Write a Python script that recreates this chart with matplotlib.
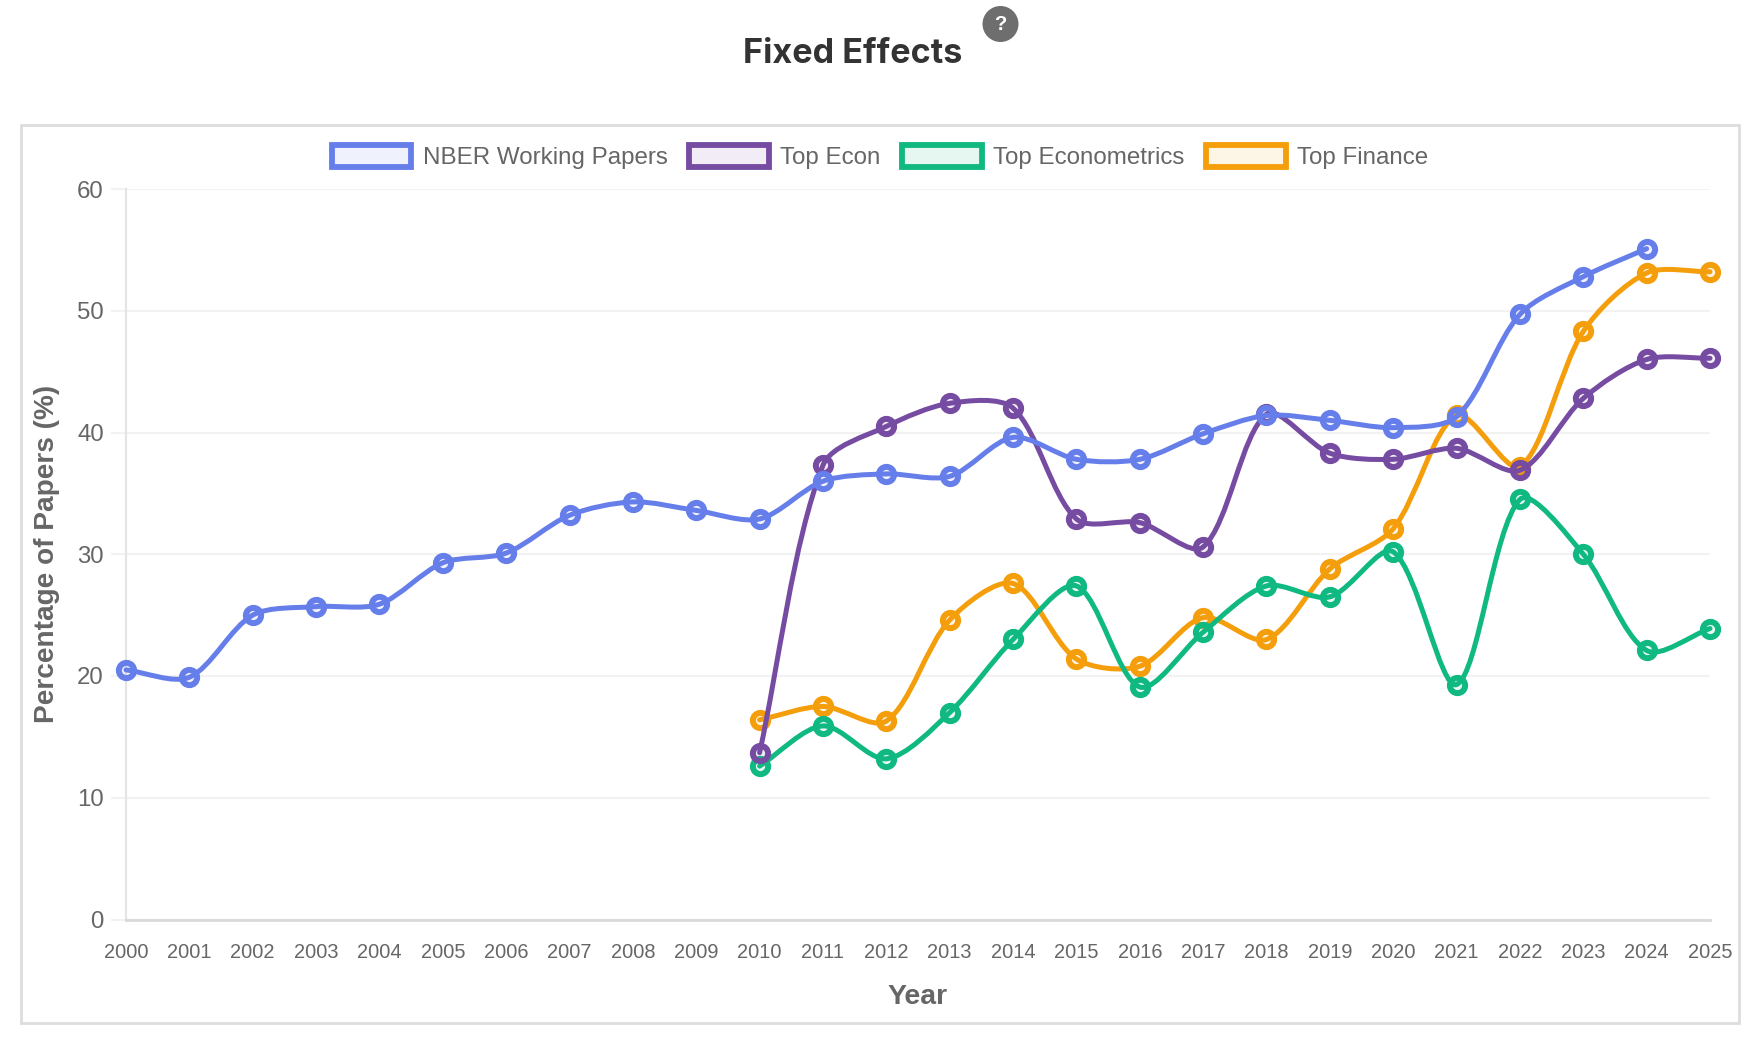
import numpy as np
from matplotlib import pyplot as plt
from matplotlib.lines import Line2D
from matplotlib.patches import Patch, PathPatch, Rectangle, Circle
from matplotlib.path import Path
from matplotlib.transforms import IdentityTransform

W, H = 1764, 1044

years = list(range(2000, 2026))
years_late = list(range(2010, 2026))

nber = [20.5, 19.9, 25.0, 25.7, 25.9, 29.3, 30.1, 33.2, 34.3, 33.6, 32.9, 36.0, 36.6,
        36.4, 39.6, 37.8, 37.8, 39.9, 41.4, 41.0, 40.4, 41.3, 49.7, 52.8, 55.1]
top_econ = [13.7, 37.3, 40.5, 42.4, 42.0, 32.9, 32.6, 30.6, 41.5, 38.3, 37.8, 38.7,
            36.9, 42.8, 46.0, 46.1]
top_metrics = [12.6, 15.9, 13.2, 17.0, 23.0, 27.4, 19.1, 23.6, 27.4, 26.5, 30.2, 19.3,
               34.5, 30.0, 22.1, 23.9]
top_finance = [16.4, 17.5, 16.3, 24.6, 27.6, 21.4, 20.8, 24.8, 23.0, 28.8, 32.1, 41.4,
               37.2, 48.3, 53.1, 53.2]

names = ['NBER Working Papers', 'Top Econ', 'Top Econometrics', 'Top Finance']
colors = ['#667eea', '#764ba2', '#10b981', '#f59e0b']
x_series = [years[:len(nber)], years_late, years_late, years_late]
y_series = [nber, top_econ, top_metrics, top_finance]

plt.rcParams['font.family'] = ['Liberation Sans', 'DejaVu Sans']
fig = plt.figure(figsize=(W / 100, H / 100), dpi=100)

# outer box around the chart
fig.add_artist(Rectangle((21 / W, 1 - 1023 / H), 1718 / W, 898 / H, transform=fig.transFigure,
                         fc='white', ec='#dddddd', lw=2, zorder=-1))

ax = fig.add_axes([126 / W, 1 - 919.5 / H, 1584 / W, 730.5 / H])
ax.patch.set_alpha(0)
ax.set(xlim=(2000, 2025), ylim=(0, 60))
ax.set_xticks(years)
ax.set_yticks(range(0, 61, 10))
ax.tick_params(axis='x', length=0, pad=17, labelsize=14.4, labelcolor='#666666')
ax.tick_params(axis='y', length=11, width=1.5, color='#f2f2f2', pad=5, labelsize=17.3,
               labelcolor='#666666')
ax.grid(axis='y', color='#f2f2f2', lw=1.5)
ax.set_axisbelow(True)
for s in ['top', 'right']:
    ax.spines[s].set_visible(False)
ax.spines['left'].set(color='#e4e4e4', lw=1.5)
ax.spines['bottom'].set(color='#d9d9d9', lw=2)
ax.set_xlabel('Year', fontsize=20.4, fontweight='bold', color='#666666', labelpad=15.5)
ax.set_ylabel('Percentage of Papers (%)', fontsize=20.2, fontweight='bold', color='#666666',
              labelpad=12)


def spline_path(xs, ys, tension=0.3):
    # same cubic control points as a chart.js line, worked out in pixels
    pts = ax.transData.transform(np.column_stack([xs, ys]))
    verts = [pts[0]]
    codes = [Path.MOVETO]
    n = len(pts)
    cp_in, cp_out = np.zeros((n, 2)), np.zeros((n, 2))
    for i in range(n):
        prev = pts[max(i - 1, 0)]
        nxt = pts[min(i + 1, n - 1)]
        d01 = np.hypot(*(pts[i] - prev))
        d12 = np.hypot(*(nxt - pts[i]))
        s01 = d01 / (d01 + d12)
        s12 = d12 / (d01 + d12)
        cp_in[i] = pts[i] - tension * s01 * (nxt - prev)
        cp_out[i] = pts[i] + tension * s12 * (nxt - prev)
    for i in range(n - 1):
        verts += [cp_out[i], cp_in[i + 1], pts[i + 1]]
        codes += [Path.CURVE4] * 3
    return Path(ax.transData.inverted().transform(np.array(verts)), codes)


handles = []
for k, (name, col, xs, ys) in enumerate(zip(names, colors, x_series, y_series)):
    z = 10 - k
    ax.add_patch(PathPatch(spline_path(xs, ys), fc='none', ec=col, lw=3.6, zorder=z,
                           clip_on=False, capstyle='round'))
    rgba = plt.matplotlib.colors.to_rgba(col, 0.1)
    ax.add_line(Line2D(xs, ys, ls='none', marker='o', ms=11, mew=4.3, mec=col, mfc=rgba,
                       zorder=z, clip_on=False))
    handles.append(Patch(fc=rgba, ec=col, lw=4.2, label=name))

fig.legend(handles=handles, ncol=4, loc='center', bbox_to_anchor=(880 / W, 1 - 157 / H),
           frameon=False, fontsize=17.4, labelcolor='#666666', handlelength=3.3, handleheight=1.0,
           handletextpad=0.48, columnspacing=0.88, borderpad=0, borderaxespad=0)

fig.text(853 / W, 1 - 54 / H, 'Fixed Effects', ha='center', va='center', fontsize=24.6,
         fontweight='bold', color='#333333', family=['Inter', 'DejaVu Sans'])
fig.add_artist(Circle((1000.5, H - 24), 18, transform=IdentityTransform(), fc='#6e6e6e', ec='none'))
fig.text(1000.5 / W, 1 - 24 / H, '?', ha='center', va='center', fontsize=14.5, fontweight='bold',
         color='white')

plt.savefig('out.png', dpi=100)
